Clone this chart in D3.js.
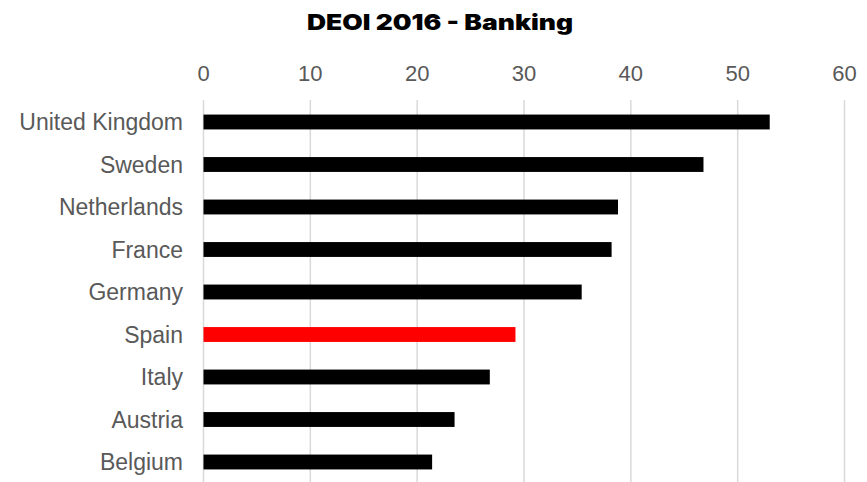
<!DOCTYPE html>
<html>
<head>
<meta charset="utf-8">
<script src="https://cdn.jsdelivr.net/npm/d3@7"></script>
<style>
  body { margin: 0; background: #fff; }
  svg { display: block; }
</style>
</head>
<body>
<svg id="chart" width="867" height="482"></svg>
<script>
// Data
const countries = ["United Kingdom", "Sweden", "Netherlands", "France", "Germany", "Spain", "Italy", "Austria", "Belgium"];
const values = [53.0, 46.8, 38.8, 38.2, 35.4, 29.2, 26.8, 23.5, 21.4];
const highlight = "Spain";
const xTicks = [0, 10, 20, 30, 40, 50, 60];

const svg = d3.select("#chart");

const x = d3.scaleLinear().domain([0, 60]).range([203.5, 844.5]);
const y = d3.scaleBand()
    .domain(countries)
    .range([100.75, 483.25])
    .paddingInner(0.65)
    .paddingOuter(0.325);

// title - heavy face, stretched a bit to match the wide original
svg.append("text")
    .attr("x", 307)
    .attr("y", 30)
    .attr("textLength", 266)
    .attr("lengthAdjust", "spacingAndGlyphs")
    .style("font-family", "Inter, Roboto, sans-serif")
    .style("font-weight", 900)
    .style("font-size", "21.5px")
    .style("fill", "#000")
    .text("DEOI 2016 - Banking");

// gridlines
svg.append("g")
    .selectAll("line")
    .data(xTicks)
    .enter().append("line")
    .attr("x1", d => x(d))
    .attr("x2", d => x(d))
    .attr("y1", 100)
    .attr("y2", 482)
    .attr("stroke", "#d9d9d9")
    .attr("stroke-width", 1.5);

// top axis labels
svg.append("g")
    .selectAll("text")
    .data(xTicks)
    .enter().append("text")
    .attr("x", d => x(d))
    .attr("y", 80.5)
    .attr("text-anchor", "middle")
    .style("font-family", "Arial, 'Liberation Sans', sans-serif")
    .style("font-size", "22px")
    .style("fill", "#595959")
    .text(d => d);

// category labels
svg.append("g")
    .selectAll("text")
    .data(countries)
    .enter().append("text")
    .attr("x", 183)
    .attr("y", d => y(d) + y.bandwidth() / 2)
    .attr("dy", "0.35em")
    .attr("text-anchor", "end")
    .style("font-family", "Arial, 'Liberation Sans', sans-serif")
    .style("font-size", "23px")
    .style("fill", "#595959")
    .text(d => d);

// bars
svg.append("g")
    .selectAll("rect")
    .data(countries)
    .enter().append("rect")
    .attr("x", x(0))
    .attr("y", d => y(d))
    .attr("width", (d, i) => x(values[i]) - x(0))
    .attr("height", y.bandwidth())
    .attr("fill", d => d === highlight ? "#ff0000" : "#000000");
</script>
</body>
</html>
